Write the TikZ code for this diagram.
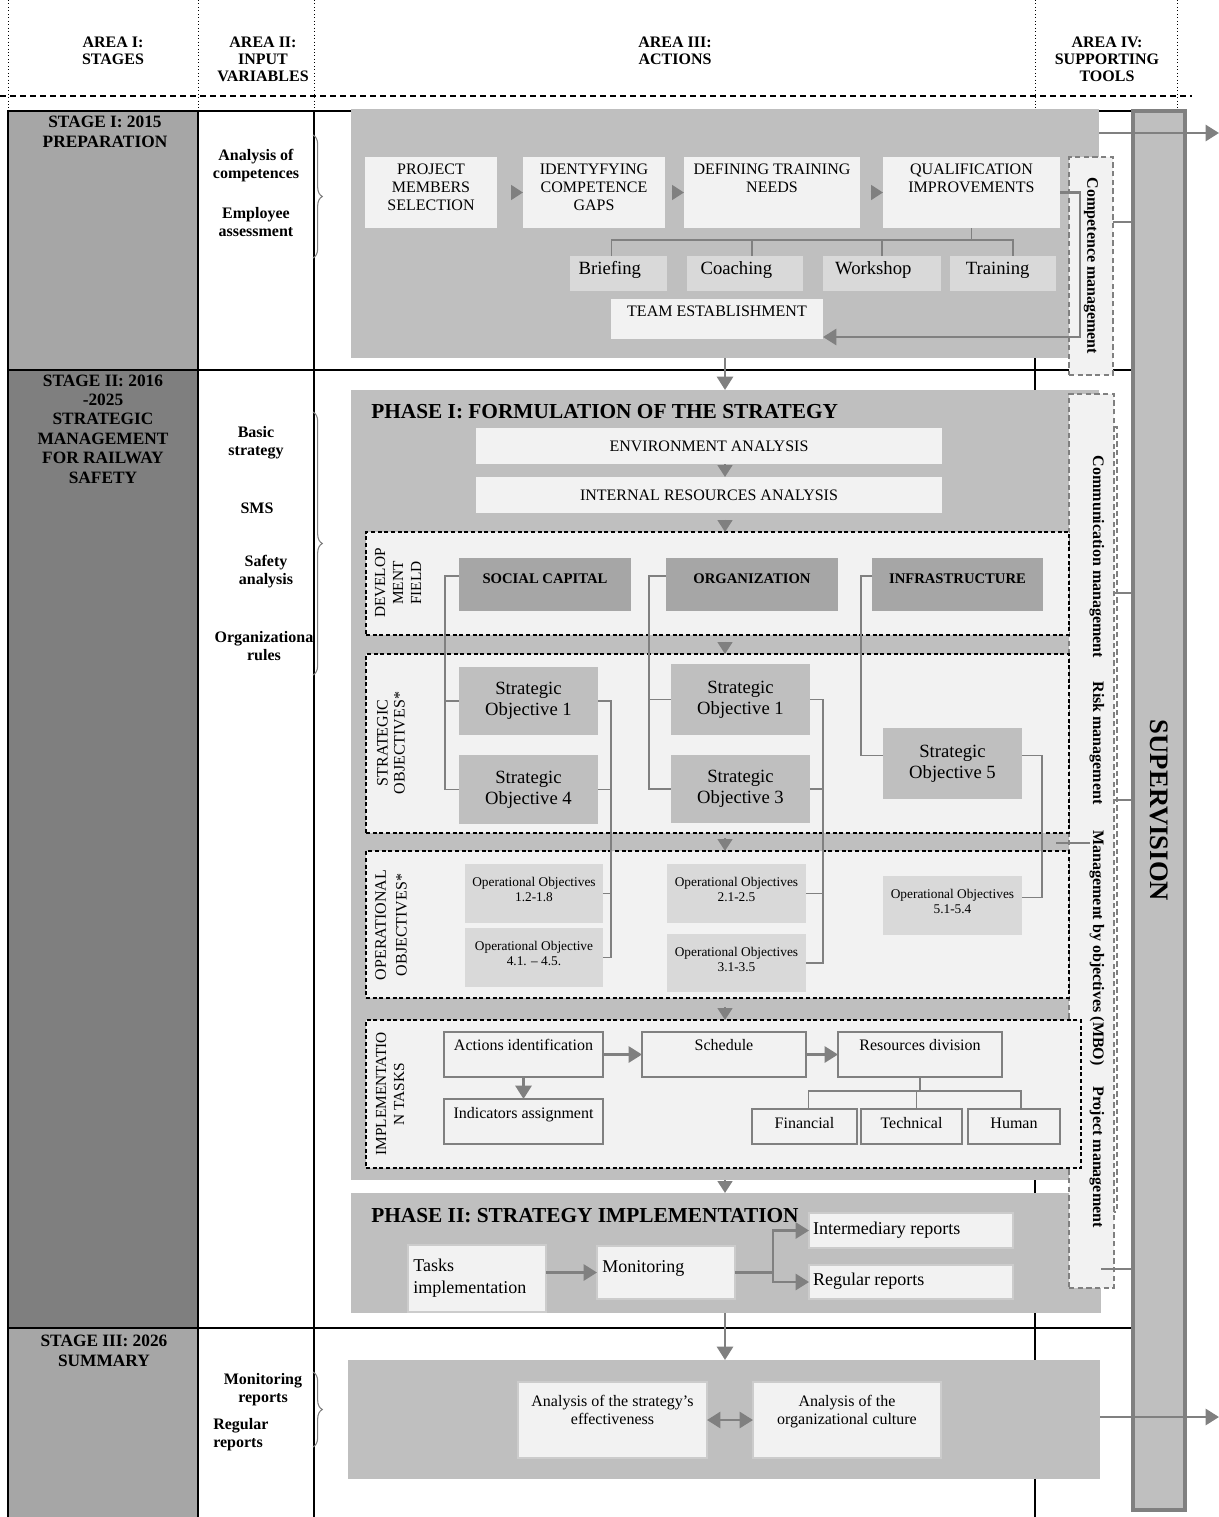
\documentclass[tikz,border=0pt]{standalone}
\usepackage{fontspec}
\setmainfont{Liberation Serif}
\usetikzlibrary{arrows.meta,calc,decorations.pathreplacing}
\definecolor{bgc}{HTML}{BFBFBF}
\definecolor{ltc}{HTML}{F2F2F2}
\definecolor{dkc}{HTML}{A6A6A6}
\definecolor{mdc}{HTML}{D9D9D9}
\definecolor{stc}{HTML}{7F7F7F}
\definecolor{agc}{HTML}{808080}
\newcommand\tbx[4]{\parbox[c][\dimexpr#2pt*3/4\relax][t]{\dimexpr#1pt*3/4\relax}{\rule{0pt}{\dimexpr#3pt*3/4\relax}#4}}
\newcommand\fsz[2]{\fontsize{#1}{#2}\selectfont}
\begin{document}
\begin{tikzpicture}[x=0.75pt,y=-0.75pt,
  bx/.style={inner sep=0pt,outer sep=0pt,anchor=north west},
  sz/.style 2 args={minimum width=#1*0.75pt,minimum height=#2*0.75pt},
  gbox/.style={bx,fill=bgc},
  lbox/.style={bx,fill=ltc},
  dbox/.style={bx,fill=dkc},
  mbox/.style={bx,fill=mdc},
  obox/.style={bx,fill=ltc,draw=agc,line width=0.9pt},
  pbox/.style={bx,fill=ltc,draw=black!20,line width=0.8pt},
  zone/.style={bx,fill=ltc,draw=black,line width=0.9pt,dash pattern=on 3pt off 2pt},
  tzone/.style={bx,fill=ltc,draw=agc,line width=1pt,dash pattern=on 4pt off 2.5pt},
  garr/.style={draw=agc,line width=2pt,-{Triangle[length=10pt,width=12pt]}},
  tri/.style={draw=agc,line width=2pt,-{Triangle[length=9pt,width=11pt]}},
  tree/.style={draw=agc,line width=1.4pt},
  gridl/.style={draw=black,line width=1.5pt},
  hd/.style={font=\bfseries\fsz{12}{12.75},align=center},
  stg/.style={font=\bfseries\fsz{13}{14.6},align=center},
  inp/.style={font=\bfseries\fsz{12}{13.5},align=center},
  rotl/.style={rotate=90,align=center,inner sep=0pt},
  tool/.style={rotate=-90,font=\bfseries\fsz{12}{14},inner sep=0pt},
  br/.style={draw=agc,line width=0.8pt,decorate,decoration={brace,amplitude=7pt}},
  ttl/.style={font=\bfseries\fsz{16}{18},anchor=west,inner sep=0pt}
]
\useasboundingbox (0,0) rectangle (1219,1517);
% header
\foreach \xx in {8,198,314,1035,1177}{\draw[line width=0.6pt,dotted] (\xx,0) -- (\xx,111);}
\draw[line width=1.6pt,dash pattern=on 4.5pt off 3pt] (0,96) -- (1192,96);
\node[hd] (h1) at (113,51) {AREA I:\\STAGES};
\node[hd] (h2) at (263,59) {AREA II:\\INPUT\\VARIABLES};
\node[hd] (h3) at (675,51) {AREA III:\\ACTIONS};
\node[hd] (h4) at (1107,59) {AREA IV:\\SUPPORTING\\TOOLS};
% stage column and grid
\fill[dkc] (8,111) rectangle (198,370);
\fill[stc] (8,370) rectangle (198,1328);
\fill[dkc] (8,1328) rectangle (198,1517);
\draw[gridl] (8,1517) -- (8,111) -- (1133,111);
\draw[gridl] (8,370) -- (1133,370);
\draw[gridl] (8,1328) -- (1133,1328);
\draw[gridl] (198,111) -- (198,1517);
\draw[gridl] (314,111) -- (314,1517);
\draw[gridl] (1035,111) -- (1035,1517);
\node[stg] (t1) at (105,132) {STAGE I: 2015\\PREPARATION};
\node[stg] (t2) at (103,429) {STAGE II: 2016\\-2025\\STRATEGIC\\MANAGEMENT\\FOR RAILWAY\\SAFETY};
\node[stg] (t3) at (104,1351) {STAGE III: 2026\\SUMMARY};
% input variables
\node[inp] (i1) at (256,166) {Analysis of\\competences};
\node[inp] (i2) at (256,222) {Employee\\assessment};
\node[inp] (i3) at (256,443) {Basic\\strategy};
\node[inp] (i4) at (257,508) {SMS};
\node[inp] (i5) at (266,572) {Safety\\analysis};
\node[inp] (i6) at (264,646) {Organizationa\\rules};
\node[inp] (i7) at (263,1390) {Monitoring\\reports};
\node[inp,align=left,anchor=west,inner sep=0pt] (i8) at (213,1435) {Regular\\reports};
\draw[br] (313,135) -- (313,258);
\draw[br] (313,412) -- (313,675);
\draw[br] (313,1372) -- (313,1447);
% containers
\node[gbox,sz={748}{249}] (s1) at (351,109) {};
\node[gbox,sz={748}{790}] (ph1) at (351,390) {};
\node[gbox,sz={750}{120}] (ph2) at (351,1193) {};
\node[gbox,sz={752}{119}] (s3) at (348,1360) {};
% supporting tools column
\node[tzone,sz={44}{218}] (comp) at (1069,157) {};
\node[tzone,sz={45}{894}] (tools) at (1069,394) {};
\draw[agc,line width=1pt,dash pattern=on 4pt off 2.5pt] (1114,427) -- (1117,427) -- (1117,1212) -- (1114,1212);
\node[tool] (tc) at (comp.center) {Competence management};
\node[tool] (tk1) at (1097,557) {Communication management};
\node[tool] (tk2) at (1097,743) {Risk management};
\node[tool] (tk3) at (1097,948) {Management by objectives (MBO)};
\node[tool] (tk4) at (1097,1157) {Project management};
% stage I actions
\node[lbox,font=\fsz{12}{13.5}] (pms) at (365,157) {\tbx{132}{71}{17}{\centering PROJECT\\MEMBERS\\SELECTION}};
\node[lbox,font=\fsz{12}{13.5}] (icg) at (523,157) {\tbx{142}{71}{17}{\centering IDENTYFYING\\COMPETENCE\\GAPS}};
\node[lbox,font=\fsz{12}{13.5}] (dtn) at (684,157) {\tbx{176}{71}{17}{\centering DEFINING TRAINING\\NEEDS}};
\node[lbox,font=\fsz{12}{13.5}] (qi) at (883,157) {\tbx{177}{71}{17}{\centering QUALIFICATION\\IMPROVEMENTS}};
\node[mbox,font=\fsz{14}{16}] (brf) at (570,256) {\tbx{97}{35}{18}{\centering\rightskip=13pt plus 1fil Briefing}};
\node[mbox,font=\fsz{14}{16}] (coa) at (687,256) {\tbx{116}{35}{18}{\centering\rightskip=13pt plus 1fil Coaching}};
\node[mbox,font=\fsz{14}{16}] (wks) at (823,256) {\tbx{118}{35}{18}{\centering\rightskip=13pt plus 1fil Workshop}};
\node[mbox,font=\fsz{14}{16}] (trn) at (950,256) {\tbx{106}{35}{18}{\centering\rightskip=8pt plus 1fil Training}};
\node[lbox,font=\fsz{12}{13.5}] (team) at (611,299) {\tbx{212}{40}{17}{\centering TEAM ESTABLISHMENT}};
% phase I
\node[ttl] (ph1t) at (371,412) {PHASE I: FORMULATION OF THE STRATEGY};
\node[lbox,font=\fsz{12}{13.5}] (env) at (476,428) {\tbx{466}{36}{23}{\centering ENVIRONMENT ANALYSIS}};
\node[lbox,font=\fsz{12}{13.5}] (ira) at (476,477) {\tbx{466}{36}{23}{\centering INTERNAL RESOURCES ANALYSIS}};
\node[zone,sz={703}{103}] (dev) at (366,532) {};
\node[zone,sz={703}{179}] (strat) at (366,654) {};
\node[zone,sz={703}{147}] (oper) at (366,851) {};
\node[zone,sz={715}{148}] (impl) at (366,1020) {};
\node[rotl,font=\fsz{11.5}{13.5}] (devl) at (398,583) {DEVELOP\\MENT\\FIELD};
\node[rotl,font=\fsz{12}{12.75}] (strl) at (391,743) {STRATEGIC\\OBJECTIVES*};
\node[rotl,font=\fsz{12}{15.5}] (opl) at (391,925) {OPERATIONAL\\OBJECTIVES*};
\node[rotl,font=\fsz{11.5}{13.5}] (iml) at (390,1094) {IMPLEMENTATIO\\N TASKS};
\node[dbox,font=\bfseries\fsz{11}{13}] (sc) at (459,558) {\tbx{172}{53}{25}{\centering SOCIAL CAPITAL}};
\node[dbox,font=\bfseries\fsz{11}{13}] (org) at (666,558) {\tbx{172}{53}{25}{\centering ORGANIZATION}};
\node[dbox,font=\bfseries\fsz{11}{13}] (inf) at (872,558) {\tbx{171}{53}{25}{\centering INFRASTRUCTURE}};
\node[gbox,sz={139}{68},align=center,font=\fsz{14}{16}] (so1a) at (459,667) {Strategic\\Objective 1};
\node[gbox,sz={139}{69},align=center,font=\fsz{14}{16}] (so4a) at (459,755) {Strategic\\Objective 4};
\node[gbox,sz={139}{71},align=center,font=\fsz{14}{16}] (so1b) at (671,664) {Strategic\\Objective 1};
\node[gbox,sz={139}{68},align=center,font=\fsz{14}{16}] (so3b) at (671,755) {Strategic\\Objective 3};
\node[gbox,sz={139}{71},align=center,font=\fsz{14}{16}] (so5) at (883,728) {Strategic\\Objective 5};
\node[mbox,font=\fsz{10}{11.25}] (oo12) at (465,864) {\tbx{138}{59}{22}{\centering Operational Objectives\\1.2-1.8}};
\node[mbox,font=\fsz{10}{11.25}] (oo41) at (465,928) {\tbx{138}{59}{22}{\centering Operational Objective\\4.1. – 4.5.}};
\node[mbox,font=\fsz{10}{11.25}] (oo21) at (667,864) {\tbx{139}{59}{22}{\centering Operational Objectives\\2.1-2.5}};
\node[mbox,font=\fsz{10}{11.25}] (oo31) at (667,934) {\tbx{139}{58}{22}{\centering Operational Objectives\\3.1-3.5}};
\node[mbox,font=\fsz{10}{11.25}] (oo51) at (883,876) {\tbx{139}{59}{22}{\centering Operational Objectives\\5.1-5.4}};
\node[obox,font=\fsz{12}{13.5}] (ai) at (444,1032) {\tbx{159}{45}{18}{\centering Actions identification}};
\node[obox,font=\fsz{12}{13.5}] (sch) at (642,1032) {\tbx{164}{45}{18}{\centering Schedule}};
\node[obox,font=\fsz{12}{13.5}] (rd) at (838,1032) {\tbx{164}{45}{18}{\centering Resources division}};
\node[obox,font=\fsz{12}{13.5}] (ia) at (444,1099) {\tbx{159}{45}{19}{\centering Indicators assignment}};
\node[obox,font=\fsz{12}{13.5}] (fin) at (752,1109) {\tbx{105}{35}{19}{\centering Financial}};
\node[obox,font=\fsz{12}{13.5}] (tec) at (861,1109) {\tbx{101}{35}{19}{\centering Technical}};
\node[obox,font=\fsz{12}{13.5}] (hum) at (968,1109) {\tbx{92}{35}{19}{\centering Human}};
% phase II
\node[ttl] (ph2t) at (371,1216) {PHASE II: STRATEGY IMPLEMENTATION};
\node[pbox,font=\fsz{13.5}{16.5}] (ti) at (408,1245) {\tbx{138}{67}{26}{\raggedright\leftskip=4pt Tasks\\implementation}};
\node[pbox,font=\fsz{13.5}{16.5}] (mon) at (597,1246) {\tbx{138}{53}{26}{\raggedright\leftskip=4pt Monitoring}};
\node[pbox,font=\fsz{13.5}{16.5}] (ir) at (809,1213) {\tbx{204}{35}{21}{\raggedright\leftskip=3pt Intermediary reports}};
\node[pbox,font=\fsz{13.5}{16.5}] (rr) at (809,1265) {\tbx{204}{34}{20}{\raggedright\leftskip=3pt Regular reports}};
% stage III
\node[pbox,font=\fsz{12}{13.5}] (ase) at (518,1382) {\tbx{189}{76}{24}{\centering Analysis of the strategy’s\\effectiveness}};
\node[pbox,font=\fsz{12}{13.5}] (aoc) at (753,1382) {\tbx{188}{76}{24}{\centering Analysis of the\\organizational culture}};
% supervision
\node[bx,fill=bgc,draw=agc,line width=2.5pt,sz={52}{1399}] (sup) at (1133,111) {};
\node[rotate=-90,font=\bfseries\fsz{20}{22},inner sep=0pt] (supt) at (sup.center) {SUPERVISION};
% connectors: stage I
\coordinate (ax) at (725,0);
\draw[garr] (s1.south -| ax) -- (ph1.north -| ax);
\draw[tri,shorten <=10.5pt] (pms) -- (icg);
\draw[tri,shorten <=5pt] (icg) -- (dtn);
\draw[tri,shorten <=8pt] (dtn) -- (qi);
\draw[tree] (qi.south) -- ++(0,12) coordinate (qj);
\draw[tree] ($(brf.north)+(-7,0)$) |- (qj) -| ($(trn.north)+(10,0)$);
\coordinate (cj) at ($(coa.north)+(7,0)$);
\draw[tree] (cj) -- (cj |- qj);
\draw[tree] (wks.north) -- (wks.north |- qj);
\coordinate (rx) at (1080,0);
\draw[garr] (qi.east) -- (qi.east -| rx) |- ($(team.south east)+(0,-2)$);
% connectors: phase I
\draw[tri] (env.south -| ax) -- (ira.north -| ax);
\draw[tri,shorten <=5pt] (ira.south -| ax) -- (dev.north -| ax);
\draw[tri,shorten <=5pt] (dev.south -| ax) -- (strat.north -| ax);
\draw[tri,shorten <=4pt] (strat.south -| ax) -- (oper.north -| ax);
\draw[tri,shorten <=7pt] (oper.south -| ax) -- (impl.north -| ax);
\draw[tri] (ph1.south -| ax) -- (ph2.north -| ax);
\coordinate (bA) at (445,0);
\coordinate (bB) at (649,0);
\coordinate (bD) at (611,0);
\coordinate (bE) at (823,0);
\draw[tree] ($(sc.north west)+(0,18)$) -| (so4a.west -| bA) -- (so4a.west);
\draw[tree] (so1a.west) -- (so1a.west -| bA);
\draw[tree] ($(org.north west)+(0,18)$) -| (so3b.west -| bB) -- (so3b.west);
\draw[tree] (so1b.west) -- (so1b.west -| bB);
\draw[tree] ($(inf.north west)+(0,18)$) -| ($(so5.west)+(-22,-8)$) -- ($(so5.west)+(0,-8)$);
\draw[tree] (so1a.east) -| (oo41.east -| bD) -- (oo41.east);
\draw[tree] (so4a.east) -- (so4a.east -| bD);
\draw[tree] (oo12.east) -- (oo12.east -| bD);
\draw[tree] (so1b.east) -| (oo31.east -| bE) -- (oo31.east);
\draw[tree] (so3b.east) -- (so3b.east -| bE);
\draw[tree] (oo21.east) -- (oo21.east -| bE);
\draw[tree] ($(so5.east)+(0,-8)$) -| ($(oo51.east)+(20,-8)$) -- ($(oo51.east)+(0,-8)$);
\draw[garr] (ai) -- (sch);
\draw[garr] (sch) -- (rd);
\draw[garr] (ai) -- (ia);
\draw[tree] (rd.south) -- ++(0,14) coordinate (rj);
\draw[tree] ($(fin.north)+(4,0)$) |- (rj) -| ($(hum.north)+(7,0)$);
\coordinate (tj) at ($(tec.north)+(5,0)$);
\draw[tree] (tj) -- (tj |- rj);
% connectors: phase II and stage III
\draw[garr] (ti.east |- mon.west) -- (mon.west);
\coordinate (mx) at (773,0);
\draw[garr] (mon.east) -- (mon.east -| mx) |- (ir.west);
\draw[garr] (mon.east -| mx) |- (rr.west);
\draw[garr] (ph2.south -| ax) -- (s3.north -| ax);
\draw[draw=agc,line width=2pt,{Triangle[length=10pt,width=12pt]}-{Triangle[length=10pt,width=12pt]}] (ase) -- (aoc);
% connectors to supervision
\coordinate (c1) at (0,222);
\draw[tree] (comp.east |- c1) -- (sup.west |- c1);
\coordinate (c2) at (0,593);
\draw[tree] (tools.east |- c2) -- (sup.west |- c2);
\coordinate (c3) at (0,800);
\draw[tree] (tools.east |- c3) -- (sup.west |- c3);
\coordinate (c4) at (0,1269);
\draw[tree] (ph2.east |- c4) -- (sup.west |- c4);
\coordinate (m1) at (1056,843);
\coordinate (m2) at (1090,843);
\draw[agc,line width=0.8pt] (m1) -- (m2);
\coordinate (o1) at (1219,133);
\draw[garr] (s1.east |- o1) -- (o1);
\coordinate (o2) at (1219,1417);
\draw[garr] (s3.east |- o2) -- (o2);
\end{tikzpicture}
\end{document}
